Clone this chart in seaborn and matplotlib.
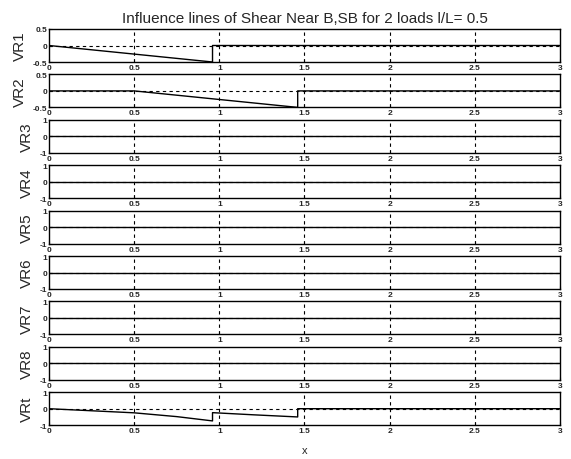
import numpy as np
import pandas as pd
import matplotlib
matplotlib.use("Agg")
import matplotlib.pyplot as plt
import seaborn as sns

sns.set_style("ticks")
plt.rcParams['font.family'] = ['Liberation Sans', 'DejaVu Sans']

labels = ["VR1", "VR2", "VR3", "VR4", "VR5", "VR6", "VR7", "VR8", "VRt"]

vr1_x = [0, 0.96, 0.96, 3]
vr1_y = [0, -0.5, 0, 0]
vr2_x = [0, 0.5, 1.46, 1.46, 3]
vr2_y = [0, 0, -0.5, 0, 0]
flat_x = [0, 3]
flat_y = [0, 0]
vrt_x = [0, 0.3, 0.5, 0.75, 0.96, 0.96, 1.2, 1.46, 1.46, 3]
vrt_y = [0, -0.15, -0.25, -0.48, -0.74, -0.24, -0.37, -0.5, 0, 0]

series = [(vr1_x, vr1_y), (vr2_x, vr2_y)] + [(flat_x, flat_y)] * 6 + [(vrt_x, vrt_y)]
ylims = [0.5, 0.5] + [1] * 7

xticks = [0, 0.5, 1, 1.5, 2, 2.5, 3]
xticklabels = ["0", "0.5", "1", "1.5", "2", "2.5", "3"]

W, H = 571, 460
fig = plt.figure(figsize=(W / 100, H / 100), dpi=100)
left, right = 49, 560
top0, pitch, ph = 30, 45.4, 33

for i, (lab, (xs, ys), lim) in enumerate(zip(labels, series, ylims)):
    top = top0 + i * pitch
    ax = fig.add_axes([left / W, 1 - (top + ph) / H, (right - left) / W, ph / H])
    df = pd.DataFrame({"x": xs, "y": ys})
    for gx in xticks[1:-1]:
        ax.axvline(gx, color="black", lw=0.8, ls=(0, (3, 3)), zorder=1)
    ax.axhline(0, color="black", lw=0.8, ls=(0, (3, 3)), zorder=1)
    sns.lineplot(data=df, x="x", y="y", sort=False, estimator=None,
                 color="black", lw=1.0, ax=ax, zorder=3)
    ax.set_xlim(0, 3)
    ax.set_ylim(-lim, lim)
    if lim == 0.5:
        ax.set_yticks([-0.5, 0, 0.5])
        ax.set_yticklabels(["-0.5", "0", "0.5"])
    else:
        ax.set_yticks([-1, 0, 1])
        ax.set_yticklabels(["-1", "0", "1"])
    ax.set_xticks(xticks)
    ax.set_xticklabels(xticklabels)
    ax.tick_params(direction="in", length=2, labelsize=6, pad=1.5, width=0.8)
    for lbl in ax.get_xticklabels() + ax.get_yticklabels():
        lbl.set_fontweight("bold")
    ax.set_ylabel(lab, fontsize=11, labelpad=4)
    ax.set_xlabel("x" if i == len(labels) - 1 else "", fontsize=8, labelpad=8)
    for s in ax.spines.values():
        s.set_linewidth(1.0)
        s.set_color("black")
    if i == 0:
        ax.set_title("Influence lines of Shear Near B,SB for 2 loads l/L= 0.5",
                     fontsize=11, pad=5)

fig.savefig("out.png", dpi=100)
